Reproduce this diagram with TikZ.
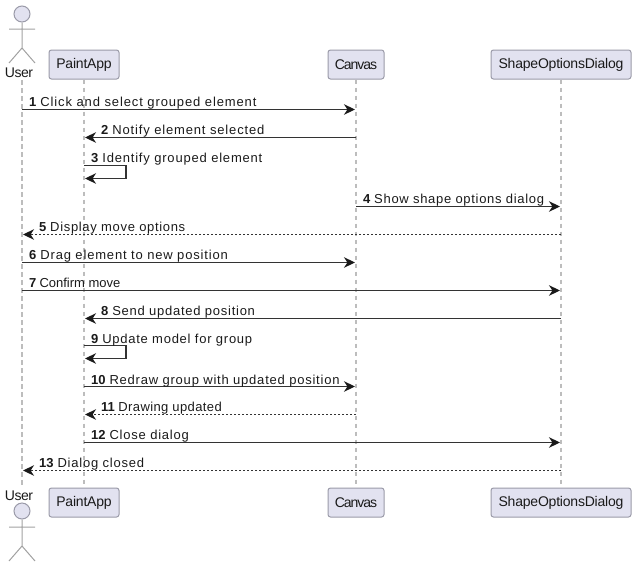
\documentclass[tikz,border=0pt]{standalone}
\usepackage{fontspec}
\setmainfont{Liberation Sans}
\newfontfamily\msgfont{Liberation Sans}
\newfontfamily\namefont{Liberation Sans}
\usetikzlibrary{arrows.meta}
\definecolor{boxfill}{HTML}{E2E2F0}
\definecolor{boxline}{HTML}{9A9AA8}
\definecolor{lifeline}{HTML}{BDBDBD}
\definecolor{msgline}{HTML}{333333}
\definecolor{inkc}{HTML}{1A1A1A}
\tikzset{
  x=1pt,y=-1pt,
  part/.style={draw=boxline,fill=boxfill,line width=1pt,rounded corners=2.5pt,minimum height=29pt,inner sep=0pt,font=\namefont\fontsize{14}{16}\selectfont,text=inkc},
  life/.style={draw=lifeline,line width=1.3pt,dash pattern=on 4.5pt off 3.5pt},
  limb/.style={draw=lifeline!85!black,line width=1pt},
  head/.style={draw=boxline,fill=boxfill,line width=1pt,circle,minimum size=16pt,inner sep=0pt},
  actorname/.style={font=\namefont\fontsize{14}{16}\selectfont,text=inkc,inner sep=0pt},
  msg/.style={draw=msgline,line width=1.1pt,-{Stealth[length=11pt,width=10.5pt,inset=3.4pt,color=inkc]},shorten >=1pt},
  ret/.style={msg,dash pattern=on 2pt off 2pt},
  lab/.style={anchor=base west,inner sep=0pt,text=inkc,font=\msgfont\fontsize{13}{15}\selectfont}
}
\newcommand{\msgtext}[3]{{\bfseries\fontsize{13}{15}\selectfont #2}{\addfontfeature{LetterSpace=#1}\ \hskip-0.5pt #3}}
\newcommand{\nm}[2]{{\addfontfeature{LetterSpace=#1}#2}}
\begin{document}
\begin{tikzpicture}
\useasboundingbox (0,0) rectangle (637,568);
% participants
\node[part,minimum width=70pt] (pT) at (84,64.5) {\nm{-1.5}{PaintApp}};
\node[part,minimum width=56pt] (cT) at (356,64.5) {\nm{-7.5}{Canvas}};
\node[part,minimum width=140pt] (dT) at (561,64.5) {\nm{-1.5}{ShapeOptionsDialog}};
\node[part,minimum width=70pt] (pB) at (84,502.5) {\nm{-1.5}{PaintApp}};
\node[part,minimum width=56pt] (cB) at (356,502.5) {\nm{-7.5}{Canvas}};
\node[part,minimum width=140pt] (dB) at (561,502.5) {\nm{-1.5}{ShapeOptionsDialog}};
\node[actorname] (uT) at (19,73) {\nm{-3}{User}};
\node[actorname] (uB) at (19,496) {\nm{-3}{User}};
% lifelines
\coordinate (U) at (22,80);
\coordinate (UE) at (22,488);
\draw[life] (U) -- (UE);
\draw[life] (pT) -- (pB);
\draw[life] (cT) -- (cB);
\draw[life] (dT) -- (dB);
% actors
\node[head] (hT) at (22,14) {};
\draw[limb] (hT) -- (22,48) (9,29) -- (35,29) (9,63) -- (22,48) -- (35,63);
\node[head] (hB) at (22,511) {};
\draw[limb] (hB) -- (22,546) (9,527) -- (35,527) (9,561) -- (22,546) -- (35,561);
% message rows
\foreach \n/\y in {1/109.5,2/137.5,3/165.5,4/206.5,5/234.5,6/262.5,7/290.5,8/318.5,9/345.5,10/386.5,11/414.5,12/442.5,13/470.5}
  \coordinate (m\n) at (0,\y);
\draw[msg] (U |- m1) -- (cT |- m1);
\draw[msg] (cT |- m2) -- (pT |- m2);
\draw[msg] (pT |- m3) -- ++(42,0) -- ++(0,13) -- ++(-42,0);
\draw[msg] (cT |- m4) -- (dT |- m4);
\draw[ret] (dT |- m5) -- (U |- m5);
\draw[msg] (U |- m6) -- (cT |- m6);
\draw[msg] (U |- m7) -- (dT |- m7);
\draw[msg] (dT |- m8) -- (pT |- m8);
\draw[msg] (pT |- m9) -- ++(42,0) -- ++(0,13) -- ++(-42,0);
\draw[msg] (pT |- m10) -- (cT |- m10);
\draw[ret] (cT |- m11) -- (pT |- m11);
\draw[msg] (pT |- m12) -- (dT |- m12);
\draw[ret] (dT |- m13) -- (U |- m13);
% labels
\node[lab] (l1) at (29,106) {\msgtext{6.8}{1}{Click and select grouped element}};
\node[lab] (l2) at (101,134) {\msgtext{6.5}{2}{Notify element selected}};
\node[lab] (l3) at (91,162) {\msgtext{6.2}{3}{Identify grouped element}};
\node[lab] (l4) at (363,203) {\msgtext{5.3}{4}{Show shape options dialog}};
\node[lab] (l5) at (39,231) {\msgtext{5.2}{5}{Display move options}};
\node[lab] (l6) at (29,259) {\msgtext{6.4}{6}{Drag element to new position}};
\node[lab] (l7) at (29,287) {\msgtext{0}{7}{Confirm move}};
\node[lab] (l8) at (101,315) {\msgtext{5.7}{8}{Send updated position}};
\node[lab] (l9) at (91,343) {\msgtext{5.7}{9}{Update model for group}};
\node[lab] (l10) at (91,384) {\msgtext{6}{10}{Redraw group with updated position}};
\node[lab] (l11) at (101,411) {\msgtext{3}{11}{Drawing updated}};
\node[lab] (l12) at (91,439) {\msgtext{6}{12}{Close dialog}};
\node[lab] (l13) at (39,467) {\msgtext{6}{13}{Dialog closed}};
\end{tikzpicture}
\end{document}
